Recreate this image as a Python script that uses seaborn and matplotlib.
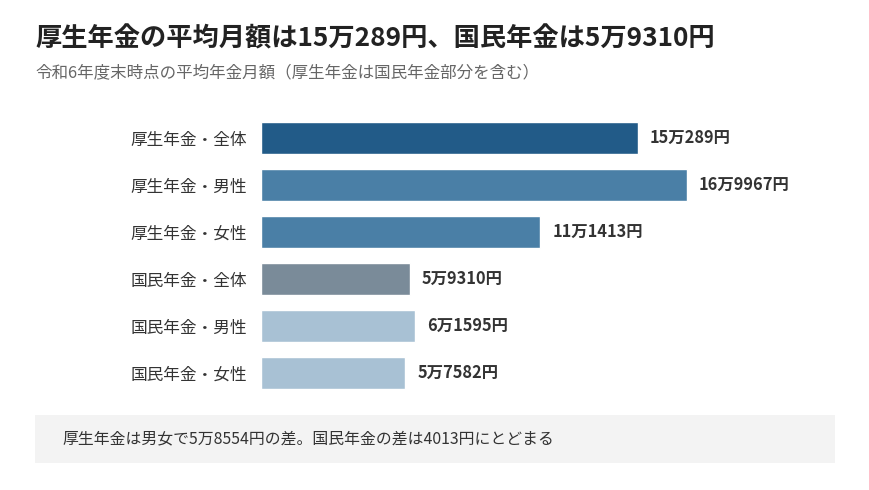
import matplotlib
matplotlib.use('Agg')
import matplotlib.pyplot as plt
import seaborn as sns
import pandas as pd
from matplotlib.patches import Rectangle

# データ
categories = ['厚生年金・全体', '厚生年金・男性', '厚生年金・女性',
              '国民年金・全体', '国民年金・男性', '国民年金・女性']
amounts = [150289, 169967, 111413, 59310, 61595, 57582]
value_labels = ['15万289円', '16万9967円', '11万1413円',
                '5万9310円', '6万1595円', '5万7582円']
bar_colors = ['#225b88', '#4a7fa6', '#4a7fa6', '#7a8b99', '#a8c1d4', '#a8c1d4']

df = pd.DataFrame({'区分': categories, '月額': amounts})

sns.set_theme(style='white')
plt.rcParams['font.family'] = ['Noto Sans CJK JP', 'DejaVu Sans']

fig = plt.figure(figsize=(8.7, 4.9), dpi=100)
ax = fig.add_axes([0.3, 0.191, 0.66, 0.575])

sns.barplot(data=df, x='月額', y='区分', hue='区分', palette=bar_colors,
            legend=False, orient='h', width=0.68, ax=ax, saturation=1)

ax.set_xlim(0, 229000)
ax.set_ylim(5.5, -0.5)
ax.set_xlabel('')
ax.set_ylabel('')
ax.set_xticks([])
ax.tick_params(axis='y', length=0, pad=10, labelsize=12, labelcolor='#333333')
sns.despine(ax=ax, left=True, bottom=True)

# 値ラベル
for cont, lab in zip(ax.containers, value_labels):
    ax.bar_label(cont, labels=[lab], padding=8.5, fontsize=11.8,
                 fontweight='bold', color='#333333')

# タイトル
fig.text(35 / 870, 1 - 39 / 490, '厚生年金の平均月額は15万289円、国民年金は5万9310円',
         fontsize=18.9, fontweight='bold', color='#222222', va='center', ha='left')
fig.text(35 / 870, 1 - 73 / 490, '令和6年度末時点の平均年金月額（厚生年金は国民年金部分を含む）',
         fontsize=11.9, color='#666666', va='center', ha='left')

# 注記ボックス
fig.patches.append(Rectangle((35 / 870, 1 - 463 / 490), 800 / 870, 48 / 490,
                             transform=fig.transFigure, facecolor='#f3f3f3',
                             edgecolor='none', zorder=0))
fig.text(62 / 870, 1 - 439 / 490, '厚生年金は男女で5万8554円の差。国民年金の差は4013円にとどまる',
         fontsize=11.4, color='#333333', va='center', ha='left')

fig.savefig('out.png', dpi=100)
